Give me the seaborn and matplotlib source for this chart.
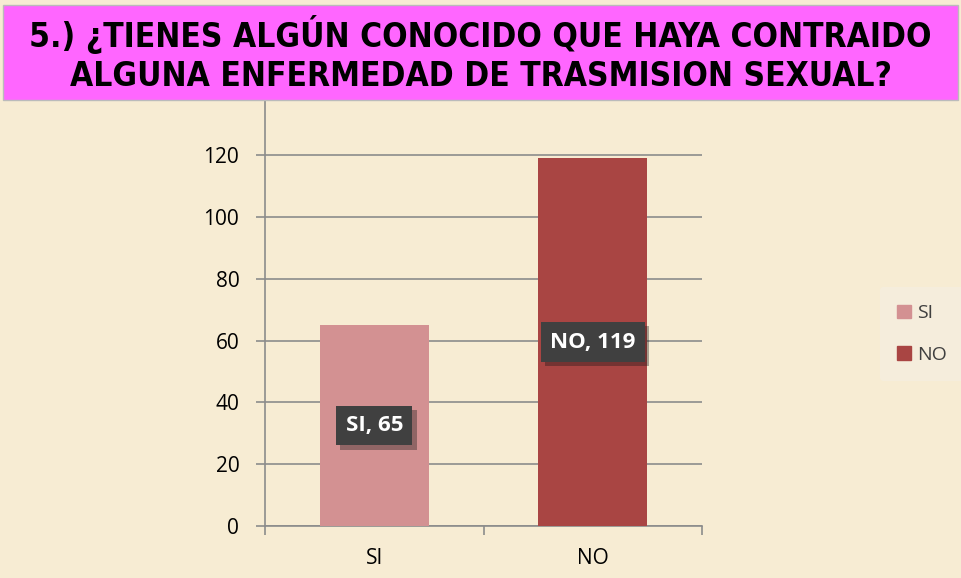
import pandas as pd
import seaborn as sns
import matplotlib.pyplot as plt
import matplotlib.patches as mpatches
import matplotlib.patheffects as pe

# chart data
categories = ["SI", "NO"]
values = [65, 119]
bar_colors = ["#D39192", "#A94543"]
y_ticks = [0, 20, 40, 60, 80, 100, 120]
title = "5.) ¿TIENES ALGÚN CONOCIDO QUE HAYA CONTRAIDO\nALGUNA ENFERMEDAD DE TRASMISION SEXUAL?"

df = pd.DataFrame({"Respuesta": categories, "Cantidad": values})

sns.set_theme(style="white")
plt.rcParams['font.family'] = ['Open Sans', 'DejaVu Sans']

fig = plt.figure(figsize=(9.61, 5.78), dpi=100)
fig.patch.set_facecolor("#F7ECD3")

# magenta title band
band = mpatches.Rectangle((3 / 961, 1 - 100 / 578), 955 / 961, 95 / 578,
                          transform=fig.transFigure, facecolor="#FF66FF",
                          edgecolor="#BBBBBB", linewidth=1, zorder=0)
fig.patches.append(band)
fig.text(0.5, 1 - 54 / 578, title, ha="center", va="center",
         fontsize=24, fontweight="bold", color="black",
         family=['DejaVu Sans'], fontstretch="condensed", linespacing=1.22)

ax = fig.add_axes([265 / 961, 1 - 526 / 578, 437 / 961, 425 / 578])
ax.set_facecolor("none")

sns.barplot(data=df, x="Respuesta", y="Cantidad", hue="Respuesta",
            palette=bar_colors, width=0.5, legend=False, ax=ax,
            saturation=1, linewidth=0, edgecolor="none", zorder=3)

ax.set_xlim(-0.5, 1.5)
ax.set_ylim(0, 137.5)
ax.set_yticks(y_ticks)
ax.set_xlabel("")
ax.set_ylabel("")
ax.grid(axis="y", color="#8C8C8C", linewidth=1.2, zorder=1)
ax.set_axisbelow(True)

for side in ["top", "right"]:
    ax.spines[side].set_visible(False)
for side in ["left", "bottom"]:
    ax.spines[side].set_color("#8C8C8C")
    ax.spines[side].set_linewidth(1.2)

ax.tick_params(axis="y", length=6.5, width=1.2, color="#8C8C8C",
               labelsize=15, pad=12, labelcolor="black", direction="out", left=True)
ax.tick_params(axis="x", which="major", length=0, labelsize=15, pad=16, labelcolor="black")
ax.set_xticks([-0.5, 0.5, 1.5], minor=True)
ax.tick_params(axis="x", which="minor", length=6.5, width=1.2, color="#8C8C8C", bottom=True)

# data labels in dark boxes
for i, (cat, val) in enumerate(zip(categories, values)):
    t = ax.text(i, val / 2, f"{cat}, {val}", ha="center", va="center",
                fontsize=16, fontweight="bold", color="white", zorder=5,
                bbox=dict(boxstyle="square,pad=0.42", facecolor="#404040",
                          edgecolor="none"))
    t.get_bbox_patch().set_path_effects(
        [pe.SimplePatchShadow(offset=(3, -3), alpha=0.35), pe.Normal()])

# legend
handles = [mpatches.Patch(color=c, label=l) for c, l in zip(bar_colors, categories)]
leg = fig.legend(handles=handles, loc="center left",
                 bbox_to_anchor=(870 / 961, 1 - 334 / 578), frameon=True,
                 fontsize=14, handlelength=0.7, handleheight=0.7,
                 handletextpad=0.3, labelspacing=1.2, borderpad=0.9)
leg.get_frame().set_facecolor("#F5EEDF")
leg.get_frame().set_edgecolor("none")
for txt in leg.get_texts():
    txt.set_color("#404040")

fig.savefig("out.png", dpi=100, facecolor=fig.get_facecolor())
